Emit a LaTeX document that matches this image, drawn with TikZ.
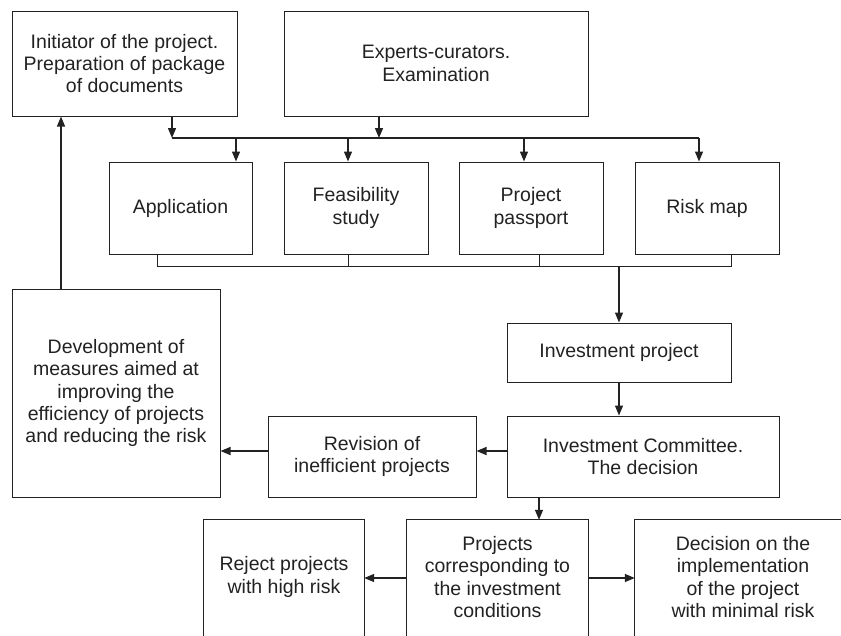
\documentclass[tikz,border=0pt]{standalone}
\usepackage{fontspec}
\setmainfont{Liberation Sans}
\usetikzlibrary{arrows.meta,calc}
\definecolor{ink}{HTML}{222222}
\begin{document}
\begin{tikzpicture}[x=1pt,y=-1pt,
  box/.style={draw=ink,line width=1pt,inner sep=0pt,align=center,text=ink,
    font=\fontsize{19.5}{22.4}\selectfont},
  obox/.style={inner sep=0pt,align=center,text=ink,
    font=\fontsize{19.5}{22.4}\selectfont},
  edge/.style={draw=ink,line width=1pt},
  conn/.style={draw=ink,line width=1.4pt},
  arr/.style={conn,-{Triangle[length=10pt,width=8pt]}}]
\useasboundingbox[fill=white] (0,0) rectangle (841,635);
\clip (0,0) rectangle (841,635);

% top row
\node[box,minimum width=225pt,minimum height=105pt] (init) at (124.5,63.5)
  {Initiator of the project.\\Preparation of package\\of documents};
\node[box,minimum width=304pt,minimum height=105pt] (exp) at (436,63.5)
  {Experts-curators.\\Examination};

% document row
\node[box,minimum width=143pt,minimum height=92pt] (app) at (180.5,208) {Application};
\node[box,minimum width=144pt,minimum height=92pt] (feas) at (356,208) {Feasibility\\study};
\node[box,minimum width=144pt,minimum height=92pt] (pass) at (531,208) {Project\\passport};
\node[box,minimum width=144pt,minimum height=92pt] (risk) at (707,208) {Risk map};

% middle
\node[box,minimum width=224pt,minimum height=59pt] (invp) at (619,352.5) {Investment project};
\node[box,minimum width=272pt,minimum height=81pt] (comm) at (643,456.5)
  {Investment Committee.\\The decision};
\node[box,minimum width=208pt,minimum height=81pt] (rev) at (372,456.5)
  {Revision of\\inefficient projects};
\node[box,minimum width=208pt,minimum height=208pt] (dev) at (116,393)
  {Development of\\measures aimed at\\improving the\\efficiency of projects\\and reducing the risk};

% bottom row (open at the bottom, cut by the page)
\node[obox,minimum width=160pt,minimum height=114pt] (rej) at (284,577)
  {Reject projects\\with high risk};
\node[obox,minimum width=181pt,minimum height=114pt] (proj) at (497.5,577)
  {Projects\\corresponding to\\the investment\\conditions};
\node[obox,minimum width=216pt,minimum height=114pt] (dec) at (743,577)
  {Decision on the\\implementation\\of the project\\with minimal risk};
\foreach \n in {rej,proj,dec}{
  \draw[edge] ([yshift=-10pt]\n.south west) -- (\n.north west) -- (\n.north east)
    -- ([yshift=-10pt]\n.south east);
}

% distribution bus
\coordinate (b1) at (172,138);
\coordinate (b2) at (379,138);
\coordinate (b3) at (699,138);
\coordinate (a1) at (236,138);
\coordinate (a2) at (348,138);
\coordinate (a3) at (524,138);
\draw[arr] (b1 |- init.south) -- (b1);
\draw[arr] (b2 |- exp.south) -- (b2);
\draw[conn] (b1) -- (b3);
\draw[arr] (a1) -- (a1 |- app.north);
\draw[arr] (a2) -- (a2 |- feas.north);
\draw[arr] (a3) -- (a3 |- pass.north);
\draw[arr] (b3) -- (b3 |- risk.north);

% collecting bus
\coordinate (c1) at (157,266);
\coordinate (c2) at (348,266);
\coordinate (c3) at (539,266);
\coordinate (c4) at (731,266);
\coordinate (c0) at (619,266);
\draw[edge] (c1 |- app.south) -- (c1) -- (c4) -- (c4 |- risk.south);
\draw[edge] (c2 |- feas.south) -- (c2);
\draw[edge] (c3 |- pass.south) -- (c3);
\draw[arr] (c0) -- (invp.north);

% flow
\draw[arr] (invp.south) -- (invp.south |- comm.north);
\draw[arr] ([yshift=5.5pt]comm.west) -- ([yshift=5.5pt]comm.west -| rev.east);
\draw[arr] ([yshift=5.5pt]rev.west) -- ([yshift=5.5pt]rev.west -| dev.east);
\draw[arr] ([xshift=-55pt]dev.north) -- ([xshift=-55pt]dev.north |- init.south);
\draw[arr] ([xshift=-104pt]comm.south) -- ([xshift=-104pt]comm.south |- proj.north);
\draw[arr] ([yshift=-1pt]proj.west) -- ([yshift=-1pt]proj.west -| rej.east);
\draw[arr] ([yshift=-1pt]proj.east) -- ([yshift=-1pt]proj.east -| dec.west);
\end{tikzpicture}
\end{document}
